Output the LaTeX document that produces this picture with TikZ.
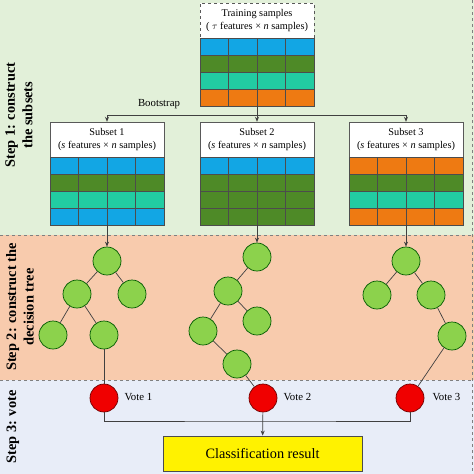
\documentclass[tikz,border=0pt]{standalone}
\usepackage{fontspec}
\setmainfont{Liberation Serif}
\usetikzlibrary{positioning,arrows.meta}
\definecolor{bandone}{HTML}{E2F0D9}
\definecolor{bandtwo}{HTML}{F8CBAD}
\definecolor{bandthree}{HTML}{E8EDF8}
\definecolor{cellblue}{HTML}{12A6E4}
\definecolor{cellgreen}{HTML}{4E8A27}
\definecolor{cellteal}{HTML}{22CCA2}
\definecolor{cellorange}{HTML}{EE7A12}
\definecolor{leafgreen}{HTML}{8CD24C}
\definecolor{votered}{HTML}{F00000}
\tikzset{%
  link/.style = {draw=black!75, line width=0.7pt},
  arrow/.style = {link, -{Stealth[length=5pt,width=4pt]}},
  head/.style = {rectangle, draw=black!65, fill=white, minimum width=114pt,
        minimum height=35pt, align=center, inner sep=1pt,
        font=\fontsize{10.3}{12.5}\selectfont},
  cell/.style = {draw=black!70, line width=0.7pt},
  t/.style = {circle, draw=green!35!black, fill=leafgreen, minimum size=28pt,
        inner sep=0pt, line width=0.7pt},
  v/.style = {circle, draw=red!45!black, fill=votered, minimum size=28pt,
        inner sep=0pt, line width=0.7pt},
  result/.style = {rectangle, draw=black!70, fill=yellow, minimum width=199pt,
        minimum height=35pt, line width=0.8pt, font=\fontsize{14.3}{16}\selectfont},
  steplabel/.style = {rotate=90, align=center, font=\bfseries\fontsize{14.4}{17.5}\selectfont},
  band/.style = {dashed, draw=black!50, line width=0.8pt}
}

\begin{document}
\begin{tikzpicture}[x=1pt,y=-1pt,font=\fontsize{10.8}{12}\selectfont]
   \useasboundingbox (0,0) rectangle (474,474);
   % background bands
   \fill[bandone] (0,0) rectangle (474,235);
   \fill[bandtwo] (0,235) rectangle (474,380);
   \fill[bandthree] (0,380) rectangle (474,474);
   \draw[band] (0,235) -- (474,235);
   \draw[band] (0,380) -- (474,380);
   \draw[band] (472,0) -- (472,474);
   \node[steplabel] (step1) at (19,115) {Step 1: construct\\the subsets};
   \node[steplabel] (step2) at (20,307) {Step 2: construct the\\decision tree};
   \node[steplabel] (step3) at (13,427) {Step 3: vote};
   % training samples
   \node[head, dashed] (train) at (257,20.5) {Training samples\\( $\tau$ features × \textit{n} samples)};
   \foreach \c [count=\i from 0] in {cellblue,cellgreen,cellteal,cellorange}
     \foreach \j in {0,...,3}
       \filldraw[cell, fill=\c] (200+28.5*\j,38+17*\i) rectangle ++(28.5,17);
   \coordinate (train-bot) at (257,106);
   \coordinate (split) at (257,115);
   % subsets
   \node[head] (s1) at (107,139.5) {Subset 1\\(\textit{s} features × \textit{n} samples)};
   \node[head] (s2) at (257,139.5) {Subset 2\\(\textit{s} features × \textit{n} samples)};
   \node[head] (s3) at (406,139.5) {Subset 3\\(\textit{s} features × \textit{n} samples)};
   \foreach \c [count=\i from 0] in {cellblue,cellgreen,cellteal,cellblue}
     \foreach \j in {0,...,3}
       \filldraw[cell, fill=\c] (50+28.5*\j,157+17*\i) rectangle ++(28.5,17);
   \foreach \c [count=\i from 0] in {cellblue,cellgreen,cellgreen,cellgreen}
     \foreach \j in {0,...,3}
       \filldraw[cell, fill=\c] (200+28.5*\j,157+17*\i) rectangle ++(28.5,17);
   \foreach \c [count=\i from 0] in {cellorange,cellgreen,cellteal,cellorange}
     \foreach \j in {0,...,3}
       \filldraw[cell, fill=\c] (349+28.5*\j,157+17*\i) rectangle ++(28.5,17);
   \coordinate (g1-bot) at (107,225);
   \coordinate (g2-bot) at (257,225);
   \coordinate (g3-bot) at (406,225);
   \node (boot) at (159,104) {Bootstrap};
   \draw[link] (train-bot) -- (split);
   \draw[arrow] (split) -| (s1);
   \draw[arrow] (split) -- (s2);
   \draw[arrow] (split) -| (s3);
   % decision trees
   \node[t] (a1) at (107,261) {};
   \node[t] (a2) at (77,294) {};
   \node[t] (a3) at (132,294) {};
   \node[t] (a4) at (53,335) {};
   \node[t] (a5) at (104,335) {};
   \node[t] (b1) at (257,257) {};
   \node[t] (b2) at (228,291) {};
   \node[t] (b3) at (257,321) {};
   \node[t] (b4) at (203,331) {};
   \node[t] (b5) at (237,364) {};
   \node[t] (c1) at (406,261) {};
   \node[t] (c2) at (377,295) {};
   \node[t] (c3) at (431,295) {};
   \node[t] (c4) at (452,336) {};
   \draw[arrow] (g1-bot) -- (a1);
   \draw[arrow] (g2-bot) -- (b1);
   \draw[arrow] (g3-bot) -- (c1);
   \draw[link] (a1) -- (a2);
   \draw[link] (a1) -- (a3);
   \draw[link] (a2) -- (a4);
   \draw[link] (a2) -- (a5);
   \draw[link] (b1) -- (b2);
   \draw[link] (b2) -- (b3);
   \draw[link] (b2) -- (b4);
   \draw[link] (b4) -- (b5);
   \draw[link] (c1) -- (c2);
   \draw[link] (c1) -- (c3);
   \draw[link] (c3) -- (c4);
   % votes
   \node[v] (v1) at (104,398) {};
   \node[v] (v2) at (263,398) {};
   \node[v] (v3) at (410,398) {};
   \node[anchor=west] (l1) at (121,397) {Vote 1};
   \node[anchor=west] (l2) at (280,397) {Vote 2};
   \node[anchor=west] (l3) at (429,397) {Vote 3};
   \draw[link] (a5) -- (v1);
   \draw[link] (b5) -- (v2);
   \draw[link] (c4) -- (v3);
   \node[result] (res) at (262.5,453.5) {Classification result};
   \coordinate (merge) at (263,421);
   \draw[link] (v1) |- (merge) -| (v3);
   \draw[arrow] (v2) -- (res);
\end{tikzpicture}
\end{document}
